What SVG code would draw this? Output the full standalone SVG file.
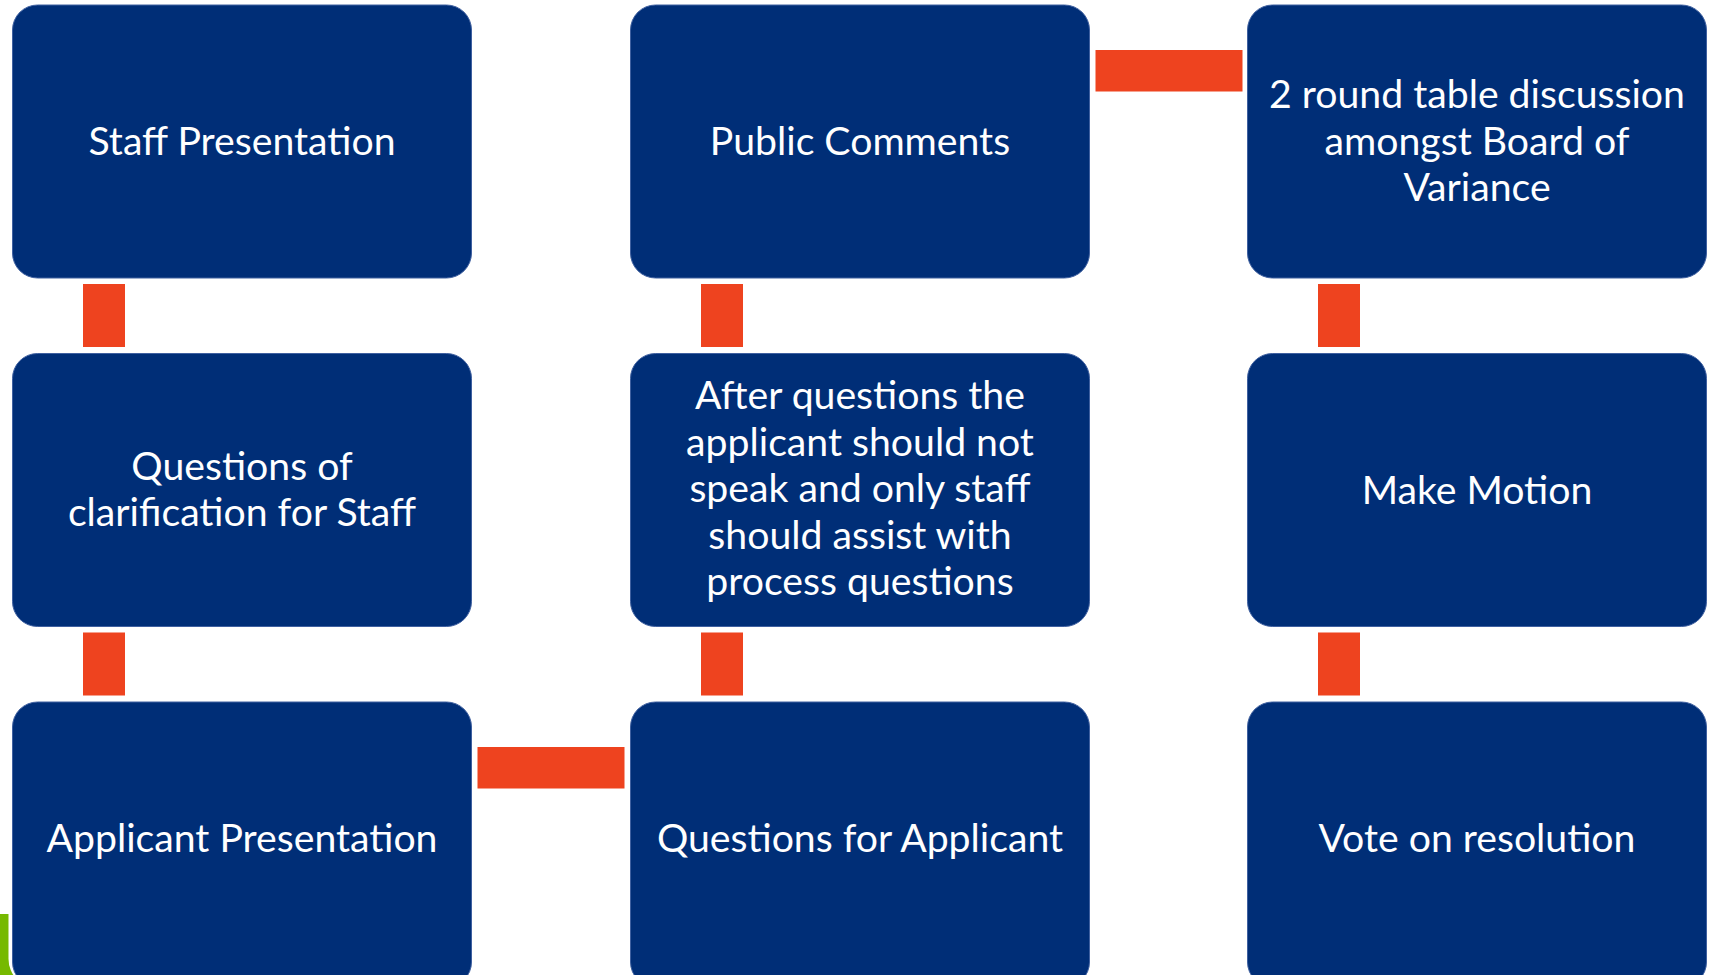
<svg xmlns="http://www.w3.org/2000/svg" width="1712" height="975" viewBox="0 0 1712 975">
  <style>
    .box { fill: #002E77; stroke: #3F60A0; stroke-width: 1; }
    .link { fill: #EE431F; }
    .label { fill: #FFFFFF; font-family: Lato, "Open Sans", "Liberation Sans", sans-serif; font-size: 39.2px; text-anchor: middle; }
  </style>
  <rect width="1712" height="975" fill="#FFFFFF"/>

  <!-- green accent peeking out at the lower-left edge -->
  <rect x="0" y="914" width="30" height="61" fill="#76B900"/>
  <rect x="8.5" y="698" width="467" height="290" rx="29" fill="#FFFFFF"/>

  <!-- connectors -->
  <g id="connectors">
    <rect class="link" x="83" y="284" width="42" height="63"/>
    <rect class="link" x="83" y="632.5" width="42" height="63"/>
    <rect class="link" x="477.5" y="747" width="147" height="41.5"/>
    <rect class="link" x="701" y="632.5" width="42" height="63"/>
    <rect class="link" x="701" y="284" width="42" height="63"/>
    <rect class="link" x="1095.5" y="50" width="147" height="41.5"/>
    <rect class="link" x="1318" y="284" width="42" height="63"/>
    <rect class="link" x="1318" y="632.5" width="42" height="63"/>
  </g>

  <!-- column 1 -->
  <g id="staff-presentation">
    <rect class="box" x="12.5" y="5" width="459" height="273" rx="25"/>
    <text class="label" x="242" y="155">Staff Presentation</text>
  </g>
  <g id="questions-staff">
    <rect class="box" x="12.5" y="353.5" width="459" height="273" rx="25"/>
    <text class="label" x="242" y="479.8">Questions of</text>
    <text class="label" x="242" y="526.3">clarification for Staff</text>
  </g>
  <g id="applicant-presentation">
    <rect class="box" x="12.5" y="702" width="459" height="285" rx="25"/>
    <text class="label" x="242" y="852">Applicant Presentation</text>
  </g>

  <!-- column 2 -->
  <g id="questions-applicant">
    <rect class="box" x="630.5" y="702" width="459" height="285" rx="25"/>
    <text class="label" x="860" y="852">Questions for Applicant</text>
  </g>
  <g id="after-questions">
    <rect class="box" x="630.5" y="353.5" width="459" height="273" rx="25"/>
    <text class="label" x="860" y="409.3">After questions the</text>
    <text class="label" x="860" y="455.8">applicant should not</text>
    <text class="label" x="860" y="502.3">speak and only staff</text>
    <text class="label" x="860" y="548.8">should assist with</text>
    <text class="label" x="860" y="595.3">process questions</text>
  </g>
  <g id="public-comments">
    <rect class="box" x="630.5" y="5" width="459" height="273" rx="25"/>
    <text class="label" x="860" y="155">Public Comments</text>
  </g>

  <!-- column 3 -->
  <g id="round-table">
    <rect class="box" x="1247.5" y="5" width="459" height="273" rx="25"/>
    <text class="label" x="1477" y="108">2 round table discussion</text>
    <text class="label" x="1477" y="154.5">amongst Board of</text>
    <text class="label" x="1477" y="201">Variance</text>
  </g>
  <g id="make-motion">
    <rect class="box" x="1247.5" y="353.5" width="459" height="273" rx="25"/>
    <text class="label" x="1477" y="503.5">Make Motion</text>
  </g>
  <g id="vote">
    <rect class="box" x="1247.5" y="702" width="459" height="285" rx="25"/>
    <text class="label" x="1477" y="852">Vote on resolution</text>
  </g>
</svg>
